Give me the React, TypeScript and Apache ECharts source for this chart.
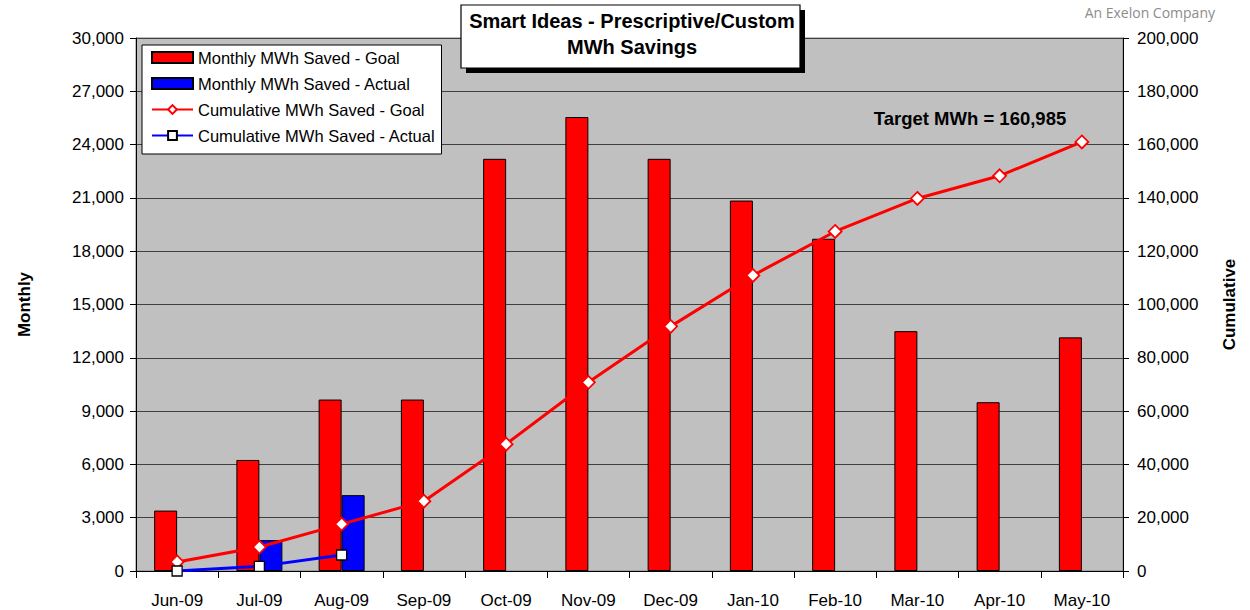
import React, { useEffect, useRef } from "react";
import * as echarts from "echarts";

const categories = ["Jun-09", "Jul-09", "Aug-09", "Sep-09", "Oct-09", "Nov-09", "Dec-09", "Jan-10", "Feb-10", "Mar-10", "Apr-10", "May-10"];
const monthlyGoal = [3400, 6250, 9650, 9650, 23200, 25550, 23200, 20850, 18700, 13500, 9500, 13150];
const monthlyActual: (number | null)[] = [null, 1740, 4270, null, null, null, null, null, null, null, null, null];
const cumulativeGoal = [3400, 9000, 17600, 26200, 47600, 70800, 91800, 110900, 127400, 139800, 148300, 160985];
const cumulativeActual = [0, 1740, 6010];

const titleLines = ["Smart Ideas - Prescriptive/Custom", "MWh Savings"];
const targetText = "Target MWh = 160,985";
const brandText = "An Exelon Company";

const FONT = "Arial, 'Liberation Sans', sans-serif";
const fmt = (v: number) => v.toLocaleString("en-US");

export default function App() {
  const ref = useRef<HTMLDivElement>(null);
  useEffect(() => {
    document.body.style.margin = "0";
    const chart = echarts.init(ref.current!, null, { renderer: "svg" });
    chart.setOption({
      animation: false,
      backgroundColor: "#ffffff",
      textStyle: { fontFamily: FONT },
      grid: {
        left: 136,
        right: 127,
        top: 38,
        height: 533,
        show: true,
        backgroundColor: "#c0c0c0",
        borderColor: "#808080",
        borderWidth: 1,
      },
      legend: {
        left: 142,
        top: 45,
        orient: "vertical",
        backgroundColor: "#ffffff",
        borderColor: "#000000",
        borderWidth: 1,
        padding: [4, 6, 10, 9],
        itemWidth: 41,
        itemHeight: 11,
        itemGap: 9,
        textStyle: { fontFamily: FONT, fontSize: 16.5, color: "#000" },
        data: [
          { name: "Monthly MWh Saved - Goal", icon: "rect" },
          { name: "Monthly MWh Saved - Actual", icon: "rect" },
          { name: "Cumulative MWh Saved - Goal" },
          { name: "Cumulative MWh Saved - Actual" },
        ],
      },
      xAxis: {
        type: "category",
        data: categories,
        boundaryGap: true,
        axisLine: { lineStyle: { color: "#000", width: 1 } },
        axisTick: { show: true, length: 7, lineStyle: { color: "#000" } },
        axisLabel: { fontFamily: FONT, fontSize: 17, color: "#000", margin: 21 },
      },
      yAxis: [
        {
          type: "value",
          min: 0,
          max: 30000,
          interval: 3000,
          name: "Monthly",
          nameLocation: "middle",
          nameGap: 103,
          nameRotate: 90,
          nameTextStyle: { fontFamily: FONT, fontSize: 17, fontWeight: "bold", color: "#000" },
          axisLine: { show: true, lineStyle: { color: "#000" } },
          axisTick: { show: true, length: 6, lineStyle: { color: "#000" } },
          axisLabel: { fontFamily: FONT, fontSize: 17, color: "#000", margin: 12, formatter: fmt },
          splitLine: { show: true, lineStyle: { color: "#404040", width: 1 } },
        },
        {
          type: "value",
          min: 0,
          max: 200000,
          interval: 20000,
          name: "Cumulative",
          nameLocation: "middle",
          nameGap: 98,
          nameRotate: 90,
          nameTextStyle: { fontFamily: FONT, fontSize: 17, fontWeight: "bold", color: "#000" },
          axisLine: { show: true, lineStyle: { color: "#000" } },
          axisTick: { show: true, length: 6, lineStyle: { color: "#000" } },
          axisLabel: { fontFamily: FONT, fontSize: 17, color: "#000", margin: 14, formatter: fmt },
          splitLine: { show: false },
        },
      ],
      series: [
        {
          name: "Monthly MWh Saved - Goal",
          type: "bar",
          data: monthlyGoal,
          barWidth: 23,
          barGap: "0%",
          itemStyle: { color: "#ff0000", borderColor: "#000", borderWidth: 1 },
        },
        {
          name: "Monthly MWh Saved - Actual",
          type: "bar",
          data: monthlyActual,
          barWidth: 23,
          barGap: "0%",
          itemStyle: { color: "#0000ff", borderColor: "#000", borderWidth: 1 },
        },
        {
          name: "Cumulative MWh Saved - Goal",
          type: "line",
          yAxisIndex: 1,
          data: cumulativeGoal,
          symbol: "diamond",
          symbolSize: 13,
          showAllSymbol: true,
          lineStyle: { color: "#ff0000", width: 3 },
          itemStyle: { color: "#ffffff", borderColor: "#ff0000", borderWidth: 1.8 },
        },
        {
          name: "Cumulative MWh Saved - Actual",
          type: "line",
          yAxisIndex: 1,
          data: cumulativeActual,
          symbol: "rect",
          symbolSize: 10,
          lineStyle: { color: "#0000ff", width: 3 },
          itemStyle: { color: "#ffffff", borderColor: "#000000", borderWidth: 1.3 },
        },
      ],
      graphic: [
        {
          type: "rect",
          shape: { x: 466, y: 10, width: 339, height: 63 },
          style: { fill: "#000000" },
          z: 100,
        },
        {
          type: "rect",
          shape: { x: 461, y: 5, width: 339, height: 63 },
          style: { fill: "#ffffff", stroke: "#000000", lineWidth: 1.2 },
          z: 101,
        },
        {
          type: "text",
          x: 632,
          y: 21,
          z: 102,
          style: {
            text: titleLines[0],
            fontFamily: FONT,
            fontSize: 20,
            fontWeight: "bold",
            fill: "#000",
            align: "center",
            verticalAlign: "middle",
          },
        },
        {
          type: "text",
          x: 632,
          y: 47,
          z: 102,
          style: {
            text: titleLines[1],
            fontFamily: FONT,
            fontSize: 20,
            fontWeight: "bold",
            fill: "#000",
            align: "center",
            verticalAlign: "middle",
          },
        },
        {
          type: "text",
          x: 970,
          y: 118,
          z: 102,
          style: {
            text: targetText,
            fontFamily: FONT,
            fontSize: 18.5,
            fontWeight: "bold",
            fill: "#000",
            align: "center",
            verticalAlign: "middle",
          },
        },
        {
          type: "text",
          x: 1215,
          y: 12,
          z: 102,
          style: {
            text: brandText,
            fontFamily: "'Open Sans', 'Noto Sans', sans-serif",
            fontSize: 14,
            fill: "#8c8c8c",
            align: "right",
            verticalAlign: "middle",
          },
        },
      ],
    });
    return () => chart.dispose();
  }, []);
  return <div ref={ref} style={{ width: 1250, height: 610 }} />;
}
